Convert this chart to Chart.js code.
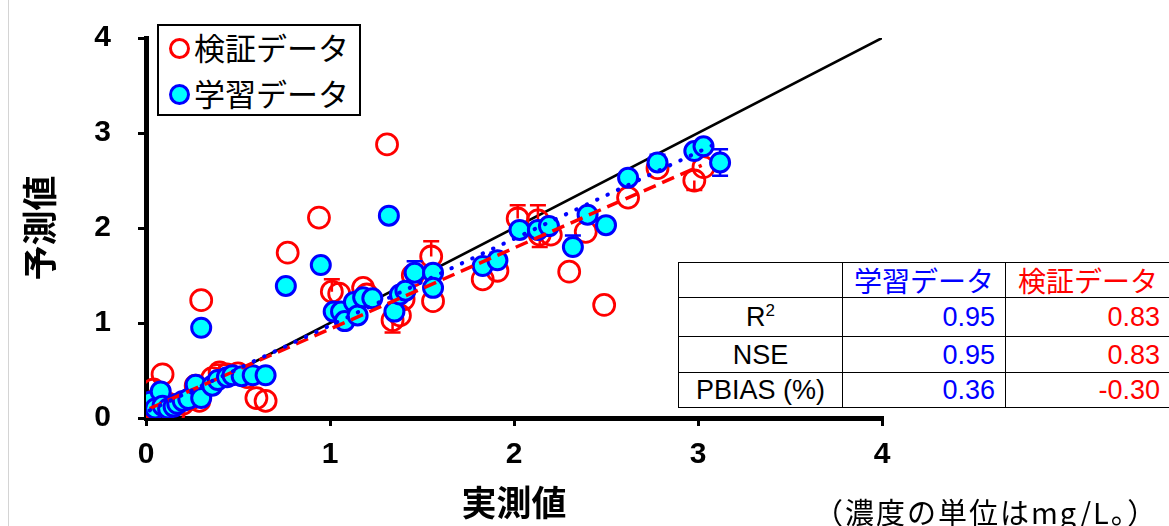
<!DOCTYPE html>
<html>
<head>
<meta charset="utf-8">
<script src="https://cdn.jsdelivr.net/npm/chart.js@4.4.0/dist/chart.umd.min.js"></script>
<style>
body { margin: 0; background: #fff; }
#wrap { position: relative; width: 1169px; height: 526px; overflow: hidden; }
#edge { position: absolute; left: 8px; top: 0; width: 1px; height: 526px; background: #d4d4d4; }
#legend { position: absolute; left: 157px; top: 24px; width: 200px; height: 88px; border: 2px solid #000; background: #fff;
  font-family: "Noto Sans CJK JP", sans-serif; font-size: 31px; color: #000; }
#legend .item { position: absolute; left: 10px; height: 38px; line-height: 38px; white-space: nowrap; }
#legend .mk { display: inline-block; width: 15px; height: 15px; border-radius: 50%; border: 3px solid; vertical-align: middle; margin-right: 4px; position: relative; top: -3px; }
#stats { position: absolute; left: 678px; top: 262px; border-collapse: collapse; background: #fff; table-layout: fixed; width: 492px;
  font-family: "Liberation Sans", Arial, sans-serif; font-size: 27px; color: #000; }
#stats td { border: 1.5px solid #000; padding: 0 10px; white-space: nowrap; line-height: 30px; overflow: hidden; }
#stats td.lab { text-align: center; }
#stats td.num { text-align: right; }
#stats td.jp { font-family: "Noto Sans CJK JP", sans-serif; font-size: 28px; text-align: center; padding: 0; }
#note { position: absolute; left: 814px; top: 490px; font-family: "Noto Sans CJK JP", sans-serif; font-size: 29px; color: #000; white-space: nowrap; letter-spacing: 2px; }
</style>
</head>
<body>
<div id="wrap">
  <canvas id="scatter-chart" width="1169" height="526"></canvas>
  <div id="edge"></div>
  <div id="legend"></div>
  <table id="stats"></table>
  <div id="note"></div>
</div>
<script>
// 学習データ (training) - observed vs predicted
var trainX = [0.02, 0.05, 0.08, 0.09, 0.12, 0.15, 0.17, 0.20, 0.23, 0.27, 0.30, 0.36, 0.39, 0.44, 0.47, 0.52, 0.58, 0.65,
              0.30, 0.76, 0.95, 1.02, 1.06, 1.08, 1.13, 1.15, 1.18, 1.23, 1.32, 1.35, 1.38, 1.41, 1.46, 1.56, 1.56,
              1.83, 1.91, 2.03, 2.13, 2.19, 2.32, 2.40, 2.50, 2.62, 2.78, 2.98, 3.03, 3.12];
var trainY = [0.17, 0.10, 0.28, 0.13, 0.10, 0.12, 0.15, 0.18, 0.20, 0.35, 0.21, 0.34, 0.40, 0.43, 0.45, 0.44, 0.45, 0.45,
              0.95, 1.39, 1.61, 1.12, 1.12, 1.02, 1.22, 1.08, 1.27, 1.26, 2.13, 1.12, 1.30, 1.34, 1.53, 1.53, 1.37,
              1.60, 1.66, 1.98, 1.98, 2.02, 1.80, 2.14, 2.03, 2.53, 2.69, 2.81, 2.86, 2.69];
var trainErrUp = [0, 0, 0, 0, 0, 0, 0, 0, 0, 0, 0, 0, 0, 0, 0, 0, 0, 0,
                  0, 0, 0, 0, 0, 0, 0, 0, 0, 0, 0, 0, 0, 0, 0.12, 0, 0,
                  0, 0.08, 0, 0, 0.05, 0.12, 0, 0, 0, 0.08, 0, 0.06, 0.14];
var trainErrDown = [0, 0, 0, 0, 0, 0, 0, 0, 0, 0, 0, 0, 0, 0, 0, 0, 0, 0,
                    0, 0, 0, 0, 0, 0, 0, 0, 0, 0, 0, 0, 0, 0, 0, 0, 0,
                    0, 0, 0, 0, 0, 0, 0, 0, 0, 0, 0, 0, 0.14];

// 検証データ (validation)
var testX = [0.02, 0.04, 0.06, 0.09, 0.12, 0.15, 0.20, 0.24, 0.27, 0.29, 0.30, 0.36, 0.40, 0.44, 0.50, 0.55, 0.60, 0.65,
             0.77, 0.94, 1.01, 1.05, 1.06, 1.18, 1.20, 1.31, 1.34, 1.38, 1.40, 1.45, 1.55, 1.56,
             1.83, 1.91, 2.02, 2.13, 2.14, 2.20, 2.30, 2.39, 2.49, 2.62, 2.78, 2.98, 3.03];
var testY = [0.12, 0.30, 0.20, 0.46, 0.15, 0.05, 0.15, 0.20, 0.34, 0.18, 1.24, 0.42, 0.48, 0.46, 0.47, 0.43, 0.21, 0.18,
             1.74, 2.11, 1.33, 1.31, 1.10, 1.37, 1.30, 2.88, 1.03, 1.08, 1.25, 1.50, 1.70, 1.23,
             1.46, 1.55, 2.10, 2.08, 1.93, 1.93, 1.54, 1.96, 1.19, 2.32, 2.63, 2.50, 2.64];
var testErrUp = [0, 0, 0, 0, 0, 0, 0, 0, 0, 0, 0, 0, 0.08, 0, 0, 0, 0, 0,
                 0, 0, 0.13, 0, 0, 0, 0, 0, 0, 0, 0, 0, 0.16, 0,
                 0, 0, 0.14, 0.16, 0, 0, 0, 0, 0, 0, 0, 0, 0];
var testErrDown = [0, 0, 0, 0, 0, 0, 0, 0, 0, 0, 0, 0, 0, 0, 0, 0, 0, 0,
                   0, 0, 0, 0, 0, 0, 0, 0, 0.13, 0, 0, 0, 0, 0,
                   0, 0, 0, 0, 0.13, 0, 0, 0, 0, 0, 0, 0.10, 0];

// regression lines and the 1:1 line (end points)
var trainFitX = [0.02, 3.10];
var trainFitY = [0.08, 2.89];
var testFitX = [0.02, 3.02];
var testFitY = [0.10, 2.66];
var oneX = [0, 4];
var oneY = [0, 4];

// statistics table
var statLabels = ['R<sup style="font-size:17px;line-height:0">2</sup>', 'NSE', 'PBIAS (%)'];
var trainStats = ['0.95', '0.95', '0.36'];
var testStats = ['0.83', '0.83', '-0.30'];

var trainName = '学習データ';
var testName = '検証データ';
var xTitle = '実測値';
var yTitle = '予測値';
var unitNote = '（濃度の単位はmg/L。）';

function pts(xs, ys) {
    return xs.map(function(x, i) { return {x: x, y: ys[i]}; });
}

var BLUE = '#0000ff';
var RED = '#ff0000';
var CYAN = '#00ffff';
var JP = '"Noto Sans CJK JP", sans-serif';
var NUM = '"Liberation Sans", Arial, sans-serif';

// error bars, drawn just before the markers of their dataset
var errorBars = {
    id: 'errorBars',
    beforeDatasetDraw: function(chart, args) {
        var ds = chart.data.datasets[args.index];
        if (!ds.errUp) return;
        var c = chart.ctx, xs = chart.scales.x, ys = chart.scales.y;
        c.save();
        c.strokeStyle = ds.pointBorderColor;
        c.lineWidth = 2.5;
        ds.data.forEach(function(p, i) {
            var px = xs.getPixelForValue(p.x);
            [ds.errUp[i], -ds.errDown[i]].forEach(function(e) {
                if (!e) return;
                var py0 = ys.getPixelForValue(p.y);
                var py1 = ys.getPixelForValue(p.y + e);
                c.beginPath();
                c.moveTo(px, py0); c.lineTo(px, py1);
                c.moveTo(px - 8, py1); c.lineTo(px + 8, py1);
                c.stroke();
            });
        });
        c.restore();
    }
};

var ctx = document.getElementById('scatter-chart').getContext('2d');
var chart = new Chart(ctx, {
    type: 'scatter',
    data: {
        datasets: [{
            label: 'train fit',
            data: pts(trainFitX, trainFitY),
            showLine: true,
            borderColor: BLUE,
            borderWidth: 4,
            borderDash: [0.5, 11],
            borderCapStyle: 'round',
            pointRadius: 0
        }, {
            label: 'test fit',
            data: pts(testFitX, testFitY),
            showLine: true,
            borderColor: RED,
            borderWidth: 3.5,
            borderDash: [13, 7],
            pointRadius: 0
        }, {
            label: trainName,
            data: pts(trainX, trainY),
            errUp: trainErrUp,
            errDown: trainErrDown,
            pointRadius: 9.5,
            pointBackgroundColor: CYAN,
            pointBorderColor: BLUE,
            pointBorderWidth: 3
        }, {
            label: testName,
            data: pts(testX, testY),
            errUp: testErrUp,
            errDown: testErrDown,
            pointRadius: 10.5,
            pointBackgroundColor: 'rgba(255,255,255,0)',
            pointBorderColor: RED,
            pointBorderWidth: 2.8
        }, {
            label: '1:1',
            data: pts(oneX, oneY),
            showLine: true,
            borderColor: '#000',
            borderWidth: 2.6,
            pointRadius: 0
        }]
    },
    options: {
        responsive: false,
        animation: false,
        devicePixelRatio: 1,
        layout: { padding: { top: 38, right: 287, left: 0, bottom: 0 } },
        plugins: { legend: { display: false }, tooltip: { enabled: false } },
        scales: {
            x: {
                type: 'linear', min: 0, max: 4,
                ticks: { stepSize: 1, color: '#000', padding: 11, font: { family: NUM, size: 30, weight: 'bold' } },
                grid: { drawOnChartArea: false, color: '#000', lineWidth: 3, tickLength: 8 },
                border: { color: '#000', width: 5 },
                title: { display: true, text: xTitle, color: '#000', padding: { top: 0, bottom: 2 },
                         font: { family: JP, size: 35, weight: 'bold' } },
                afterFit: function(scale) {
                    scale.height = 108;
                    scale.paddingLeft = 0;
                    scale.paddingRight = 0;
                }
            },
            y: {
                type: 'linear', min: 0, max: 4,
                ticks: { stepSize: 1, color: '#000', padding: 27, font: { family: NUM, size: 30, weight: 'bold' } },
                grid: { drawOnChartArea: false, color: '#000', lineWidth: 3, tickLength: 8 },
                border: { color: '#000', width: 5 },
                title: { display: true, text: yTitle, color: '#000', padding: { top: 19, bottom: 0 },
                         font: { family: JP, size: 35, weight: 'bold' } },
                afterFit: function(scale) {
                    scale.width = 146;
                    scale.paddingTop = 0;
                    scale.paddingBottom = 0;
                }
            }
        }
    },
    plugins: [errorBars]
});

// legend box
var legend = document.getElementById('legend');
legend.innerHTML =
    '<div class="item" style="top:2px"><span class="mk" style="border-color:' + RED + ';background:#fff"></span>' + testName + '</div>' +
    '<div class="item" style="top:48px"><span class="mk" style="border-color:' + BLUE + ';background:' + CYAN + '"></span>' + trainName + '</div>';

// stats table
var rows = '<colgroup><col style="width:164px"><col style="width:163px"><col style="width:165px"></colgroup>' +
    '<tr style="height:35px"><td></td>' +
    '<td class="jp" style="color:' + BLUE + '">' + trainName + '</td>' +
    '<td class="jp" style="color:' + RED + '">' + testName + '</td></tr>';
var heights = [39, 36, 35];
statLabels.forEach(function(lab, i) {
    rows += '<tr style="height:' + heights[i] + 'px"><td class="lab">' + lab + '</td>' +
        '<td class="num" style="color:' + BLUE + '">' + trainStats[i] + '</td>' +
        '<td class="num" style="color:' + RED + '">' + testStats[i] + '</td></tr>';
});
document.getElementById('stats').innerHTML = rows;
document.getElementById('note').textContent = unitNote;
</script>
</body>
</html>
